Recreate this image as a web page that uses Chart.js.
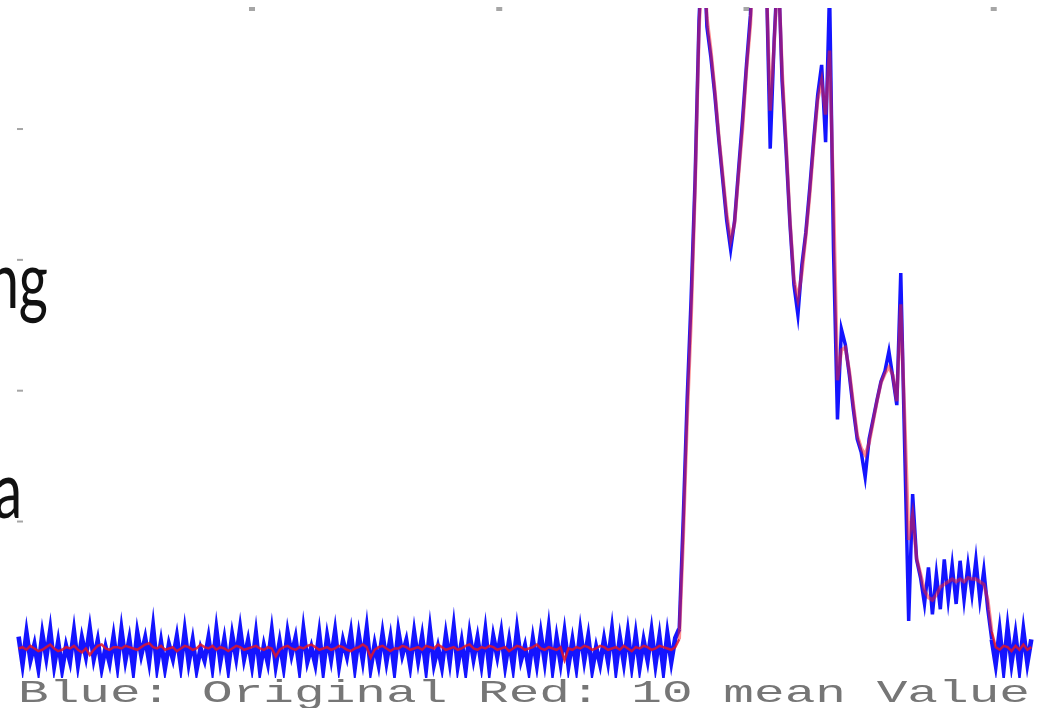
<!DOCTYPE html>
<html>
<head>
<meta charset="utf-8">
<script src="https://cdn.jsdelivr.net/npm/chart.js@4/dist/chart.umd.min.js"></script>
<style>
  html, body { margin: 0; padding: 0; background: #fff; }
  #wrap { position: relative; width: 1039px; height: 708px; overflow: hidden; background: #fff; }
  #c { position: absolute; left: 0; top: 0; }
  .slide { position: absolute; font-family: Lato, "Open Sans", sans-serif; color: #111; font-size: 80px; line-height: 80px; white-space: pre; text-align: right; transform-origin: 100% 50%; }
  #cap { position: absolute; left: 18px; top: 678px; font-family: "Liberation Mono", "DejaVu Sans Mono", monospace; font-size: 32px; line-height: 32px; color: #767676; white-space: pre; transform-origin: 0 0; }
</style>
</head>
<body>
<div id="wrap">
  <canvas id="c" width="1039" height="708"></canvas>
  <div class="slide" id="s1" style="left:-252px; width:300px; top:237px; transform: scaleX(0.7);">ng</div>
  <div class="slide" id="s2" style="left:-278px; width:300px; top:447px; transform: scaleX(0.7);">a</div>
  <div id="cap">Blue: Original Red: 10 mean Value</div>
</div>
<script>
// ---- data (sample positions start/step, y values) ----
const sampleStart = 14;
const sampleStep = 4;

const blueValues = [
  12, -9, 15, -6, 6, -12, 14, -4, 17, -10,
  8, -13, 5, -7, 16, -9, 11, -3, 18, -5,
  9, -12, 4, -8, 12, -10, 17, -6, 10, -13,
  15, -2, 11, -7, 19, -11, 8, -12, 6, -5,
  12, -10, 16, -8, 9, -13, 3, -6, 11, -11,
  17, -7, 10, -12, 13, -4, 18, -5, 9, -10,
  14, -13, 5, -8, 16, -10, 8, -11, 15, -2,
  11, -12, 17, -7, 4, -9, 14, -13, 12, -5,
  16, -10, 9, -3, 15, -11, 13, -6, 18, -12,
  6, -9, 14, -7, 11, -13, 16, -2, 9, -10,
  15, -6, 12, -12, 17, -9, 4, -11, 13, -7,
  19, -10, 8, -13, 14, -5, 11, -9, 16, -12,
  12, -3, 15, -10, 9, -11, 17, -6, 5, -13,
  10, -9, 14, -7, 18, -12, 11, -8, 15, -10,
  9, -11, 16, -6, 12, -13, 4, -9, 10, -7,
  17, -12, 11, -8, 15, -10, 13, -11, 9, -6,
  16, -9, 12, -13, 14, -7, 11,
  18, 101, 193, 270, 361, 483, 550, 478, 455, 426,
  392, 361, 330, 308, 330, 369, 407, 449, 487, 560,
  575, 545, 520, 385, 468, 530, 437, 384, 327, 281,
  258, 296, 321, 355, 392, 426, 449, 390, 506, 308,
  178, 247, 235, 212, 186, 163, 153, 134, 163, 178,
  193, 207, 215, 230, 210, 189, 290, 155, 24, 121,
  71, 57, 37, 65, 29, 60, 33, 71, 40, 67,
  37, 70, 40, 67, 44, 71, 40, 63, 33, 10,
  -9, 16, -12, 18, -8, 13, -12, 16, -8, 10
];

const redValues = [
  3, 4, 2, 5, 3, 1, 2, 4, 6, 3,
  1, 2, 4, 3, 5, 2, 0, 3, -2, 2,
  5, 6, 3, 2, 4, 4, 3, 5, 4, 3,
  2, 4, 6, 7, 4, 3, 5, 2, 3, 4,
  1, 3, 5, 4, 2, 3, 6, 4, 3, 5,
  2, 4, 3, 1, 3, 5, 4, 2, 3, 4,
  5, 3, 2, 4, 3, -3, 2, 4, 5, 3,
  2, 4, 3, 5, 6, 4, 2, 3, 4, 2,
  3, 5, 4, 2, 1, 3, 4, 6, 4, -4,
  2, 4, 5, 3, 1, 3, 3, 5, 4, 2,
  3, 4, 2, 5, 4, 3, 6, 4, 2, 3,
  4, 2, 3, 5, 6, 3, 2, 4, 3, 5,
  4, 2, 3, 4, 1, 3, 5, 4, 2, 3,
  4, 6, 3, 2, 4, 3, 2, 4, -6, 3,
  2, 4, 3, 5, 4, 2, 3, 5, 4, 2,
  3, 4, 2, 5, 3, 1, 4, 3, 5, 4,
  2, 3, 5, 4, 3, 2, 4,
  10, 86, 178, 254, 353, 476, 540, 485, 460, 430,
  395, 365, 335, 315, 328, 365, 400, 445, 480, 555,
  570, 550, 515, 414, 465, 525, 445, 390, 330, 285,
  270, 290, 318, 350, 388, 422, 437, 411, 460, 346,
  208, 231, 233, 215, 190, 166, 156, 151, 160, 176,
  192, 206, 213, 218, 212, 192, 266, 178, 86, 105,
  72, 60, 47, 42, 40, 44, 50, 52, 54, 56,
  54, 56, 54, 57, 56, 56, 54, 52, 40, 16,
  4, 2, 5, 4, 1, 5, 2, 6, 2, 4
];

const xTicks = [250, 500, 750, 1000];
const yTicks = [100, 200, 300, 400];

// ---- build chart ----
const toPoints = vals => vals.map((v, i) => ({ x: sampleStart + i * sampleStep, y: v }));
const nearFloor = c => Math.max(c.p0.parsed.y, c.p1.parsed.y) < 25;

const tickMarks = {
  id: 'tickMarks',
  beforeDatasetsDraw(chart) {
    const { ctx, chartArea: a, scales } = chart;
    ctx.save();
    ctx.fillStyle = 'rgba(150,150,150,0.85)';
    xTicks.forEach(v => {
      const px = scales.x.getPixelForValue(v);
      ctx.fillRect(px - 3, a.top - 1, 6, 4);
    });
    yTicks.forEach(v => {
      const py = scales.y.getPixelForValue(v);
      ctx.fillRect(a.left - 1, py - 1, 6, 2);
    });
    ctx.restore();
  }
};

new Chart(document.getElementById('c'), {
  type: 'line',
  data: {
    datasets: [
      {
        label: 'Red: 10 mean Value',
        data: toPoints(redValues),
        borderColor: 'rgba(255,30,30,0.5)',
        borderWidth: 3.5,
        segment: {
          borderColor: c => nearFloor(c) ? 'rgba(225,20,40,0.85)' : undefined,
          borderWidth: c => nearFloor(c) ? 2.5 : undefined
        },
        pointRadius: 0,
        tension: 0,
        order: 0,
        clip: { left: 2, top: 0, right: 2, bottom: 6 }
      },
      {
        label: 'Blue: Original',
        data: toPoints(blueValues),
        borderColor: 'rgb(20,20,255)',
        borderWidth: 3.5,
        segment: {
          borderWidth: c => nearFloor(c) ? 4.6 : undefined
        },
        pointRadius: 0,
        tension: 0,
        order: 1,
        clip: { left: 2, top: 0, right: 2, bottom: 6 }
      }
    ]
  },
  options: {
    responsive: false,
    animation: false,
    events: [],
    layout: { padding: { left: 18, right: 7, top: 8, bottom: 36 } },
    plugins: { legend: { display: false }, tooltip: { enabled: false } },
    scales: {
      x: { type: 'linear', display: false, min: 13.4, max: 1038.7 },
      y: { type: 'linear', display: false, min: -15, max: 492.5 }
    }
  },
  plugins: [tickMarks]
});

// stretch the caption horizontally like the reference
const cap = document.getElementById('cap');
const w = cap.getBoundingClientRect().width;
cap.style.transform = 'scaleX(' + (1012 / w) + ')';
</script>
</body>
</html>
